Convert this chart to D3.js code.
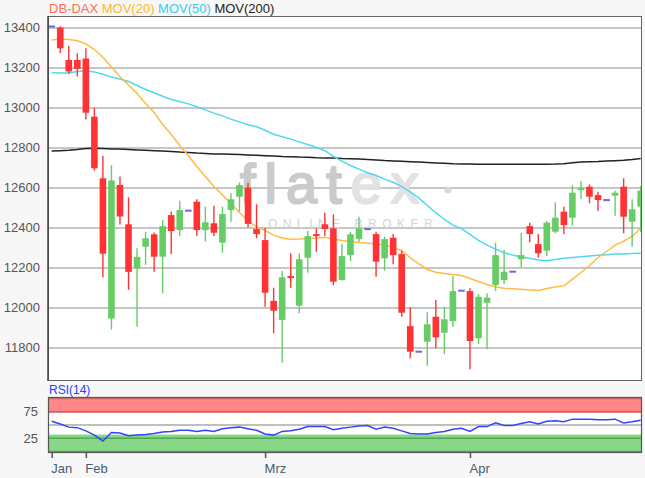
<!DOCTYPE html>
<html><head><meta charset="utf-8">
<script src="https://cdn.jsdelivr.net/npm/d3@7/dist/d3.min.js"></script>
<style>
html,body{margin:0;padding:0;background:#f7f7f7;}
svg{display:block;font-family:"Liberation Sans",Arial,sans-serif;}
</style>
</head><body>
<svg id="c" width="645" height="478"></svg>
<script>
// ---- data ----
const tickIdx = [0, 4, 25, 49];
const tickLabels = ["Jan", "Feb", "Mrz", "Apr"];
const yTicks = [11800, 12000, 12200, 12400, 12600, 12800, 13000, 13200, 13400];
const rsiTicks = [25, 75];
const legendNames = ["DB-DAX", "MOV(20)", "MOV(50)", "MOV(200)"];

const open  = [13405,13400,13238,13238,13245,12954,12646,11945,12613,12416,12196,12304,12366,12254,12462,12387,12484,12529,12387,12421,
               12324,12487,12554,12600,12392,12337,12033,11938,12157,12009,12249,12367,12416,12396,12137,12262,12342,12392,12367,12246,
               12349,12267,11907,11779,11829,11954,11874,11932,12084,12082,11846,12024,12112,12137,12179,12242,12407,12317,12284,12379,
               12479,12449,12587,12604,12562,12537,12559,12604,12429,12504];
const high  = [13408,13406,13309,13271,13296,12998,12759,12712,12655,12551,12296,12379,12375,12437,12480,12534,12486,12541,12504,12509,
               12504,12571,12625,12622,12516,12396,12099,12184,12271,12271,12384,12396,12474,12466,12317,12379,12454,12394,12379,12354,
               12367,12284,12001,11781,11976,12037,12004,12159,12086,12096,12067,12071,12324,12287,12181,12374,12424,12367,12432,12526,
               12504,12612,12632,12616,12579,12539,12584,12646,12541,12607];
const low   = [13402,13271,13169,13155,12940,12684,12150,11890,12415,12088,11904,12213,12179,12071,12267,12357,12482,12357,12329,12357,
               12274,12429,12480,12400,12346,12004,11871,11724,12099,11971,12174,12279,12357,12112,12135,12232,12329,12390,12154,12184,
               12216,11954,11746,11777,11709,11796,11767,11904,12082,11691,11817,11791,12082,12117,12177,12201,12326,12249,12257,12371,
               12367,12409,12542,12521,12482,12535,12459,12371,12304,12379];
const close = [13405,13296,13180,13193,12974,12696,12269,12635,12455,12178,12253,12346,12254,12407,12382,12487,12484,12387,12426,12374,
               12467,12541,12612,12418,12367,12074,11984,12151,12147,12241,12357,12357,12392,12129,12257,12366,12396,12392,12229,12342,
               12262,11974,11779,11779,11916,11851,11941,12082,12084,11832,12054,12049,12262,12179,12179,12262,12367,12271,12424,12449,
               12412,12574,12597,12554,12537,12537,12574,12454,12491,12584];
const ma20  = [13338,13342,13340,13334,13318,13290,13250,13204,13154,13112,13070,13020,12975,12915,12865,12810,12760,12705,12655,12605,
               12563,12520,12475,12432,12405,12385,12362,12348,12341,12342,12345,12348,12351,12342,12335,12329,12325,12321,12317,12312,
               12300,12285,12248,12218,12190,12176,12170,12165,12160,12145,12130,12115,12102,12096,12094,12091,12088,12085,12095,12102,
               12108,12142,12175,12210,12250,12280,12312,12332,12355,12396];
const ma50  = [13174,13172,13172,13180,13184,13178,13166,13152,13142,13130,13110,13090,13074,13056,13040,13030,13018,13004,12988,12972,
               12958,12942,12928,12914,12904,12886,12866,12854,12842,12828,12815,12800,12784,12756,12732,12710,12692,12674,12660,12642,
               12626,12604,12578,12548,12510,12474,12440,12412,12394,12366,12336,12312,12292,12274,12262,12252,12246,12238,12234,12240,
               12246,12250,12254,12258,12261,12264,12267,12268,12270,12271];
const ma200 = [12782,12784,12786,12790,12795,12796,12795,12793,12792,12790,12788,12786,12784,12782,12780,12777,12775,12772,12770,12768,
               12767,12766,12765,12763,12761,12759,12757,12755,12754,12752,12751,12749,12748,12747,12745,12744,12742,12740,12738,12735,
               12733,12731,12729,12727,12725,12723,12721,12719,12718,12717,12716,12716,12716,12716,12716,12716,12716,12716,12716,12717,
               12719,12724,12728,12729,12730,12732,12734,12736,12740,12745];
const rsi   = [57,52,46,45,39,31,20,36,35,30,31,32,34,37,38,40,40,38,40,38,
               43,45,46,43,40,33,31,38,39,42,47,47,47,41,44,46,48,49,42,46,
               44,39,34,33,33,36,38,42,44,38,47,47,54,49,49,53,56,52,57,58,
               56,61,61,61,60,60,61,54,56,59];

// ---- layout ----
const L = 48, R = 642, T = 16, B = 381, RT = 397, RB = 453;
const svg = d3.select("#c");
const x = d3.scaleLinear().domain([0, open.length - 1]).range([51.7, 640.7]);
const y = d3.scaleLinear().domain([11632.5, 13457.5]).range([B, T]);
const yr = d3.scaleLinear().domain([-2.6, 102.6]).range([RB, RT]);
const idx = d3.range(open.length);

const defs = svg.append("defs");
defs.append("clipPath").attr("id", "clipMain").append("rect")
  .attr("x", L).attr("y", T).attr("width", R - L).attr("height", B - T);
defs.append("clipPath").attr("id", "clipRsi").append("rect")
  .attr("x", L).attr("y", RT).attr("width", R - L).attr("height", RB - RT);

// main panel background
svg.append("rect").attr("x", L).attr("y", T).attr("width", R - L).attr("height", B - T).attr("fill", "#fff");

// grid + y labels
const gy = svg.append("g").attr("transform", `translate(${L},0)`)
  .call(d3.axisLeft(y).tickValues(yTicks).tickSize(-(R - L)).tickPadding(8).tickFormat(d3.format("d")));
gy.select(".domain").remove();
gy.selectAll(".tick line").attr("stroke", "#b3b3b3").attr("stroke-width", 1.6);
gy.selectAll(".tick text").attr("fill", "#555").style("font-size", "13px").style("font-family", "'Liberation Sans',Arial,sans-serif");

// watermark
const wm = svg.append("g").attr("pointer-events", "none");
wm.append("text").attr("x", 240).attr("y", 203).style("font-size", "56px").style("letter-spacing", "9px")
  .style("font-family", "'Liberation Sans',Arial,sans-serif")
  .attr("stroke-width", 2.2).attr("stroke-linejoin", "round")
  .selectAll("tspan").data([["flat", "#cbcbcb"], ["ex", "#e2e2e2"]]).join("tspan")
  .text(d => d[0]).attr("fill", d => d[1]).attr("stroke", d => d[1]);
wm.append("circle").attr("cx", 448).attr("cy", 190).attr("r", 3.5).attr("fill", "#d8d8d8");
wm.append("text").attr("x", 268).attr("y", 228).style("font-size", "12px").style("letter-spacing", "5.5px")
  .attr("fill", "#d4d4d4").text("ONLINE BROKER");

// moving averages
const main = svg.append("g").attr("clip-path", "url(#clipMain)");
const line = arr => d3.line().x(i => x(i)).y(i => y(arr[i]))(idx);
[[ma200, "#222"], [ma50, "#4fd8f2"], [ma20, "#ffbb44"]].forEach(([arr, col]) => {
  main.append("path").attr("d", line(arr)).attr("fill", "none").attr("stroke", col).attr("stroke-width", 1.5);
});

// candles
const bw = 6.6;
const up = "#66cc66", dn = "#ff3333", dj = "#7264e0";
const cg = main.append("g");
idx.forEach(i => {
  const o = open[i], c = close[i], h = high[i], l = low[i];
  if (o === c) {
    cg.append("rect").attr("x", x(i) - bw / 2).attr("y", y(o) - 1).attr("width", bw).attr("height", 2).attr("fill", dj);
    return;
  }
  const col = c > o ? up : dn;
  cg.append("line").attr("x1", x(i)).attr("x2", x(i)).attr("y1", y(h)).attr("y2", y(l))
    .attr("stroke", col).attr("stroke-width", 1.4);
  cg.append("rect").attr("x", x(i) - bw / 2).attr("y", y(Math.max(o, c)))
    .attr("width", bw).attr("height", Math.max(1.5, y(Math.min(o, c)) - y(Math.max(o, c)))).attr("fill", col);
});

// main frame
svg.append("rect").attr("x", L + 0.5).attr("y", T + 0.5).attr("width", R - L - 1).attr("height", B - T - 1)
  .attr("fill", "none").attr("stroke", "#666").attr("stroke-width", 1);
svg.append("line").attr("x1", L).attr("x2", L).attr("y1", T).attr("y2", B).attr("stroke", "#444").attr("stroke-width", 1.5);

// legend
const legCols = ["#ff6e50", "#ffb833", "#3ccbec", "#222"];
svg.append("text").attr("x", 49).attr("y", 13).style("font-size", "13px")
  .selectAll("tspan").data(legendNames).join("tspan")
  .attr("fill", (d, i) => legCols[i]).text((d, i) => (i ? " " : "") + d);

// RSI panel
svg.append("rect").attr("x", L).attr("y", RT).attr("width", R - L).attr("height", RB - RT).attr("fill", "#fff");
svg.append("rect").attr("x", L).attr("y", RT).attr("width", R - L).attr("height", yr(73) - RT).attr("fill", "#ff8787");
svg.append("rect").attr("x", L).attr("y", yr(32)).attr("width", R - L).attr("height", RB - yr(32)).attr("fill", "#88d787");
[[100, "#d86a6a"], [75, "#c86060"], [50, "#aaa"], [25, "#55a855"], [0, "#55a855"]].forEach(([v, col]) => {
  svg.append("line").attr("x1", L).attr("x2", R).attr("y1", yr(v)).attr("y2", yr(v)).attr("stroke", col).attr("stroke-width", 1.5);
});
svg.append("g").attr("clip-path", "url(#clipRsi)").append("path")
  .attr("d", d3.line().x(i => x(i)).y(i => yr(rsi[i]))(idx))
  .attr("fill", "none").attr("stroke", "#3344ff").attr("stroke-width", 1.5);
svg.append("rect").attr("x", L + 0.5).attr("y", RT + 0.5).attr("width", R - L - 1).attr("height", RB - RT - 1)
  .attr("fill", "none").attr("stroke", "#555").attr("stroke-width", 1.2);

const gr = svg.append("g").attr("transform", `translate(${L},0)`)
  .call(d3.axisLeft(yr).tickValues(rsiTicks).tickSize(0).tickPadding(10));
gr.select(".domain").remove();
gr.selectAll(".tick text").attr("fill", "#555").style("font-size", "13px").style("font-family", "'Liberation Sans',Arial,sans-serif");

svg.append("text").attr("x", 49).attr("y", 394).style("font-size", "12px").attr("fill", "#2a3cff").text("RSI(14)");

// x axis
const gx = svg.append("g").attr("transform", `translate(0,${RB})`)
  .call(d3.axisBottom(x).tickValues(tickIdx).tickSize(5).tickPadding(6).tickFormat((d, i) => tickLabels[i]));
gx.select(".domain").remove();
gx.selectAll(".tick line").attr("stroke", "#555").attr("stroke-width", 1.5);
gx.selectAll(".tick text").attr("fill", "#4b5b6b").attr("text-anchor", "start").attr("x", -1)
  .style("font-size", "13px").style("font-family", "'Liberation Sans',Arial,sans-serif");
</script>
</body></html>
